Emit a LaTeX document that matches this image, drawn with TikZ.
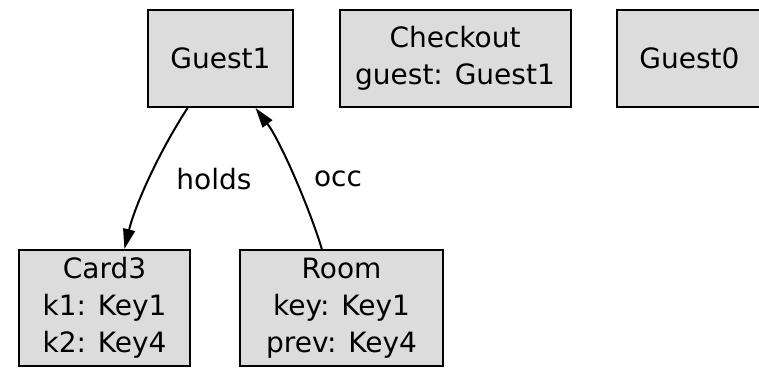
\documentclass[tikz,border=0pt]{standalone}
\usepackage{fontspec}
\setmainfont{DejaVu Sans}
\usetikzlibrary{arrows.meta,calc}
\definecolor{boxfill}{RGB}{220,220,220}
\tikzset{
  atom/.style={draw=black, fill=boxfill, line width=2pt, inner sep=0pt, align=center,
    font=\fontsize{28}{37}\selectfont},
  rel/.style={line width=2pt, -{Triangle[length=20pt,width=12pt]}},
  lbl/.style={font=\fontsize{28}{37}\selectfont, inner sep=0pt}
}
\begin{document}
\begin{tikzpicture}[x=1pt,y=-1pt]
\useasboundingbox (0,0) rectangle (759,367);
\clip (0,0) rectangle (759,367);
\node[atom, minimum width=145pt, minimum height=97pt] (g1) at (220.5,58.5) {Guest1};
\node[atom, minimum width=231pt, minimum height=97pt] (co) at (455,58.5) {Checkout\\guest: Guest1};
\node[atom, minimum width=145pt, minimum height=97pt] (g0) at (689.5,58.5) {Guest0};
\node[atom, minimum width=171pt, minimum height=116pt] (c3) at (104.5,308) {Card3\\k1: Key1\\k2: Key4};
\node[atom, minimum width=203pt, minimum height=116pt] (rm) at (341.5,308) {Room\\key: Key1\\prev: Key4};
\coordinate (hs) at ($(g1.south west)!0.276!(g1.south east)$);
\coordinate (he) at ($(c3.north west)!0.615!(c3.north east)$);
\coordinate (os) at ($(rm.north west)!0.404!(rm.north east)$);
\coordinate (oe) at ($(g1.south west)!0.738!(g1.south east)$);
\draw[rel] (hs) .. controls ($(hs)+(-28,43)$) and ($(he)+(11,-45)$) .. (he);
\draw[rel] (os) .. controls ($(os)+(-12,-40)$) and ($(oe)+(25,33)$) .. (oe);
\node[lbl] (lh) at (214,179) {holds};
\node[lbl] (lo) at (338,179) {occ};
\end{tikzpicture}
\end{document}
